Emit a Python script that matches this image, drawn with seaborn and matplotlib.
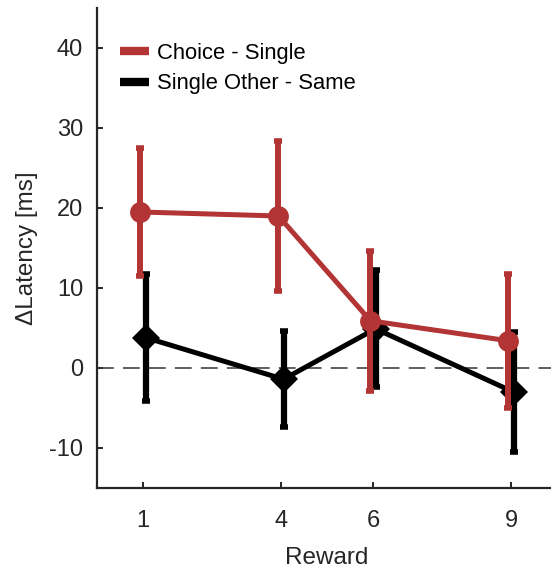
import matplotlib
matplotlib.use("Agg")
import matplotlib.pyplot as plt
import seaborn as sns
import numpy as np
import pandas as pd
from matplotlib.lines import Line2D

# Data
reward = [1, 4, 6, 9]
choice_single = [19.5, 19.0, 5.9, 3.4]
choice_single_err = [8.0, 9.4, 8.75, 8.4]
other_same = [3.8, -1.4, 4.9, -3.0]
other_same_err = [7.9, 6.0, 7.3, 7.5]
series_names = ["Choice - Single", "Single Other - Same"]
yticks = [-10, 0, 10, 20, 30, 40]

sns.set_style("ticks")
plt.rcParams['font.family'] = ['Liberation Sans', 'DejaVu Sans']

red = "#B23434"
black = "#000000"
axc = "#262626"

fig = plt.figure(figsize=(5.51, 5.68), dpi=100)
ax = fig.add_axes([97/551, 80/568, 460/551, 480/568])

offset = 0.055
df = pd.DataFrame({
    "Reward": np.concatenate([np.array(reward) + offset, np.array(reward) - offset]),
    "val": other_same + choice_single,
    "err": other_same_err + choice_single_err,
    "series": [series_names[1]] * 4 + [series_names[0]] * 4,
})

ax.axhline(0, color="#333333", lw=1.1, dashes=(11, 6), zorder=1)

# black series
d = df[df.series == series_names[1]]
ax.errorbar(d["Reward"], d["val"], yerr=d["err"], fmt="none", ecolor=black,
            elinewidth=4.5, capsize=3, capthick=4, zorder=2)
sns.lineplot(data=d, x="Reward", y="val", color=black, lw=3.6, marker="D",
             markersize=14, markeredgewidth=0, ax=ax, zorder=3, legend=False)

# red series
d = df[df.series == series_names[0]]
ax.errorbar(d["Reward"], d["val"], yerr=d["err"], fmt="none", ecolor=red,
            elinewidth=4.3, capsize=3, capthick=4, zorder=4)
sns.lineplot(data=d, x="Reward", y="val", color=red, lw=3.6, marker="o",
             markersize=15, markeredgewidth=0, ax=ax, zorder=5, legend=False)

ax.set_xlim(0, 10)
ax.set_ylim(-15, 45)
ax.set_xticks(reward)
ax.set_yticks(yticks)
ax.set_yticklabels([str(v) for v in yticks])
ax.tick_params(direction="in", length=4.5, width=1.4, color=axc, labelcolor=axc,
               labelsize=17)
ax.tick_params(axis="x", pad=16)
ax.tick_params(axis="y", pad=10)
for s in ["top", "right"]:
    ax.spines[s].set_visible(False)
for s in ["left", "bottom"]:
    ax.spines[s].set_linewidth(1.6)
    ax.spines[s].set_color(axc)

ax.set_xlabel("Reward", fontsize=17.5, color=axc, labelpad=10.5)
ax.set_ylabel("\u0394Latency [ms]", fontsize=17.5, color=axc, labelpad=8)

handles = [Line2D([0], [0], color=red, lw=6, solid_capstyle="butt"),
           Line2D([0], [0], color=black, lw=6, solid_capstyle="butt")]
ax.legend(handles, series_names, loc="upper left", bbox_to_anchor=(0.05, 0.928),
          frameon=False, fontsize=15.8, handlelength=1.3, handletextpad=0.4,
          labelspacing=0.45, borderaxespad=0, borderpad=0, labelcolor="black")

fig.savefig("out.png", dpi=100)
